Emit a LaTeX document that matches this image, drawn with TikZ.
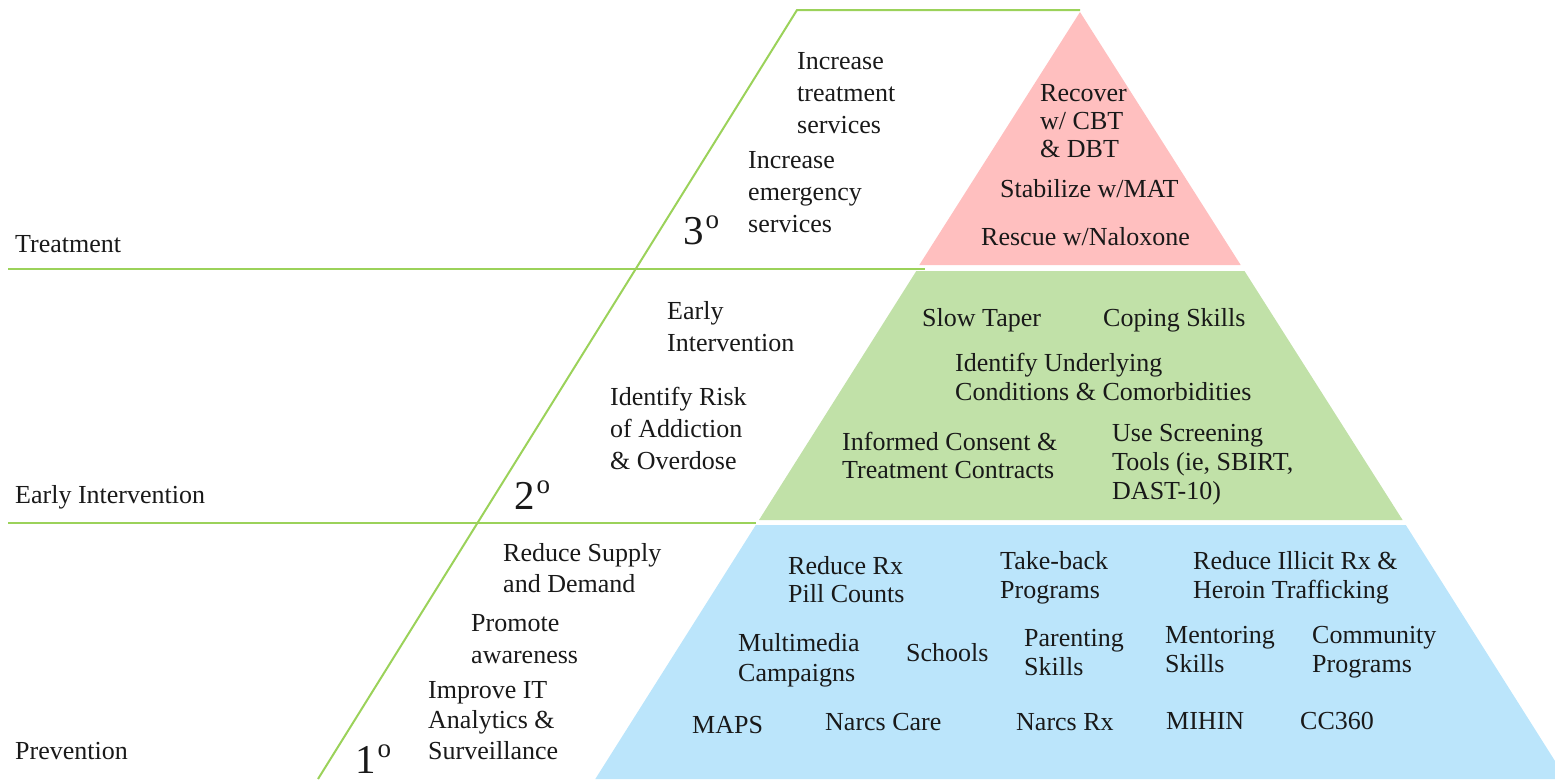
\documentclass[tikz,border=0pt]{standalone}
\usepackage{fontspec}
\setmainfont{Liberation Serif}
\definecolor{linegreen}{RGB}{155,210,90}
\definecolor{pinkfill}{RGB}{255,191,191}
\definecolor{greenfill}{RGB}{193,225,168}
\definecolor{bluefill}{RGB}{187,229,251}
\definecolor{ink}{RGB}{25,25,25}
\newcommand{\lvlsup}{\kern2pt\raisebox{16pt}{\fontsize{27}{27}\selectfont o}}
\begin{document}
\begin{tikzpicture}[x=1pt,y=-1pt,
  txt/.style={anchor=base west, inner sep=0pt, align=left, text=ink,
    font=\fontsize{26}{30}\selectfont},
  wide/.style={font=\fontsize{26}{32}\selectfont},
  tight/.style={font=\fontsize{26}{28}\selectfont},
  mid/.style={font=\fontsize{26}{29}\selectfont},
  level/.style={anchor=base west, inner sep=0pt, text=ink,
    font=\fontsize{41}{44}\selectfont},
  gline/.style={draw=linegreen, line width=2pt}]
\useasboundingbox (0,0) rectangle (1555,779);
% pyramid tiers
\fill[pinkfill] (1080,12) -- (1240.7,265) -- (919.3,265) -- cycle;
\fill[greenfill] (916.3,271) -- (1244.5,271) -- (1402.6,520) -- (759,520) -- cycle;
\fill[bluefill] (755.8,525) -- (1405.8,525) -- (1555,761) -- (1555,779) -- (595.3,779) -- cycle;
% green guide lines
\coordinate (tl) at (797,10);
\coordinate (tr) at (1080,10);
\coordinate (bl) at (318,779);
\coordinate (h1a) at (8,268.5);
\coordinate (h1b) at (925,268.5);
\coordinate (h2a) at (8,523);
\coordinate (h2b) at (756,523);
\draw[gline] (tr) -- (tl) -- (bl);
\draw[gline] (h1a) -- (h1b);
\draw[gline] (h2a) -- (h2b);
% left labels
\node[txt] (lt) at (15,252) {Treatment};
\node[txt] (le) at (15,503) {Early Intervention};
\node[txt] (lp) at (15,759) {Prevention};
% levels
\node[level] (n3) at (683,244) {3\lvlsup};
\node[level] (n2) at (514,509) {2\lvlsup};
\node[level] (n1) at (355,773) {1\lvlsup};
% tertiary (base = baseline of last line)
\node[txt,wide] (t1) at (797,133) {Increase\\treatment\\services};
\node[txt,wide] (t2) at (748,232) {Increase\\emergency\\services};
\node[txt,tight] (p1) at (1040,157) {Recover\\w/ CBT\\\& DBT};
\node[txt] (p2) at (1000,197) {Stabilize w/MAT};
\node[txt] (p3) at (981,245) {Rescue w/Naloxone};
% secondary
\node[txt,wide] (s1) at (667,351) {Early\\Intervention};
\node[txt,wide] (s2) at (610,469) {Identify Risk\\of Addiction\\\& Overdose};
\node[txt] (g1) at (922,326) {Slow Taper};
\node[txt] (g2) at (1103,326) {Coping Skills};
\node[txt,mid] (g3) at (955,400) {Identify Underlying\\Conditions \& Comorbidities};
\node[txt,tight] (g4) at (842,478) {Informed Consent \&\\Treatment Contracts};
\node[txt,mid] (g5) at (1112,499) {Use Screening\\Tools (ie, SBIRT,\\DAST-10)};
% primary
\node[txt,font=\fontsize{26}{31}\selectfont] (r1) at (503,592) {Reduce Supply\\and Demand};
\node[txt,wide] (r2) at (471,663) {Promote\\awareness};
\node[txt,font=\fontsize{26}{30.5}\selectfont] (r3) at (428,759) {Improve IT\\Analytics \&\\Surveillance};
\node[txt,tight] (b1) at (788,602) {Reduce Rx\\Pill Counts};
\node[txt,mid] (b2) at (1000,598) {Take-back\\Programs};
\node[txt,mid] (b3) at (1193,598) {Reduce Illicit Rx \&\\Heroin Trafficking};
\node[txt] (b4) at (738,681) {Multimedia\\Campaigns};
\node[txt] (b5) at (906,661) {Schools};
\node[txt,mid] (b6) at (1024,675) {Parenting\\Skills};
\node[txt,mid] (b7) at (1165,672) {Mentoring\\Skills};
\node[txt,mid] (b8) at (1312,672) {Community\\Programs};
\node[txt] (b9) at (692,733) {MAPS};
\node[txt] (b10) at (825,730) {Narcs Care};
\node[txt] (b11) at (1016,730) {Narcs Rx};
\node[txt] (b12) at (1166,729) {MIHIN};
\node[txt] (b13) at (1300,729) {CC360};
\end{tikzpicture}
\end{document}
